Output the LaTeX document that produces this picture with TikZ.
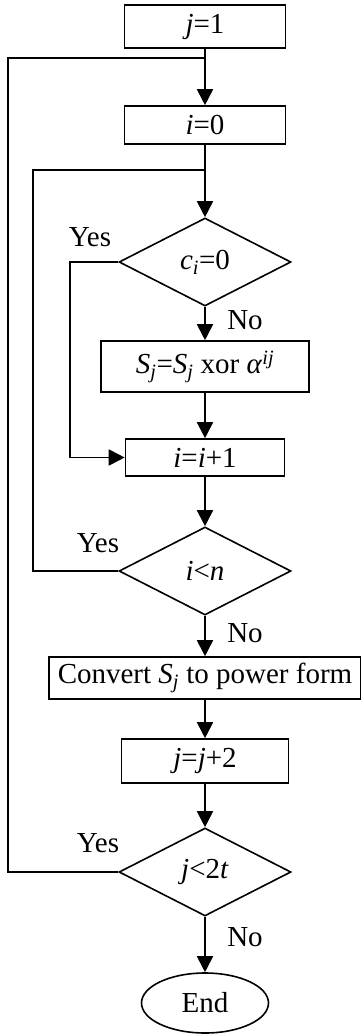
\documentclass[tikz,border=0pt]{standalone}
\usepackage{fontspec}
\setmainfont{Liberation Serif}
\usetikzlibrary{shapes.geometric,arrows.meta}
\begin{document}
\begin{tikzpicture}[x=1pt,y=-1pt,
  font=\fontsize{29}{32}\selectfont,
  line width=1.8pt,
  arr/.style={-{Triangle[length=16pt,width=16pt]}},
  procbox/.style={draw,rectangle,inner sep=0pt,line width=1.6pt},
  decbox/.style={draw,diamond,inner sep=0pt,aspect=1.95,minimum width=172pt,minimum height=88pt,line width=1.6pt},
  lbl/.style={inner sep=0pt}]
\useasboundingbox (0,0) rectangle (360,1034);
\node[procbox,minimum width=161pt,minimum height=43pt] (j1) at (205,26.5) {\textit{j}=1};
\node[procbox,minimum width=161pt,minimum height=38pt] (i0) at (205,125) {\textit{i}=0};
\node[decbox] (c0) at (205,262) {\textit{c}\textsubscript{\textit{i}}=0};
\node[procbox,minimum width=208pt,minimum height=51pt] (sx) at (205,366.5) {\textit{S}\textsubscript{\textit{j}}=\textit{S}\textsubscript{\textit{j}} xor \textit{α}\textsuperscript{\textit{ij}}};
\node[procbox,minimum width=159pt,minimum height=37pt] (inc) at (205,457.5) {\textit{i}=\textit{i}+1};
\node[decbox] (iln) at (205,571) {\textit{i}<\textit{n}};
\node[procbox,minimum width=312pt,minimum height=42pt] (conv) at (205,678) {Convert \textit{S}\textsubscript{\textit{j}} to power form};
\node[procbox,minimum width=167pt,minimum height=44pt] (jj2) at (205,761) {\textit{j}=\textit{j}+2};
\node[decbox] (jlt) at (205,872) {\textit{j}<2\textit{t}};
\node[draw,ellipse,inner sep=0pt,minimum width=127pt,minimum height=60pt,line width=1.6pt] (end) at (205,1003) {End};
\coordinate (J1) at (205,58);
\coordinate (oL) at (8,58);
\coordinate (J2) at (205,170);
\coordinate (iL) at (33,170);
\coordinate (yc) at (70,457.5);
\draw[arr] (j1) -- (i0);
\draw[arr] (i0) -- (c0);
\draw[arr] (c0) -- (sx);
\draw[arr] (sx) -- (inc);
\draw[arr] (inc) -- (iln);
\draw[arr] (iln) -- (conv);
\draw[arr] (conv) -- (jj2);
\draw[arr] (jj2) -- (jlt);
\draw[arr] (jlt) -- (end);
\draw[arr] (c0.west) -| (yc) -- (inc.west);
\draw (iln.west) -| (iL) -- (J2);
\draw (jlt.west) -| (oL) -- (J1);
\node[lbl] (y1) at (90,237) {Yes};
\node[lbl] (y2) at (98,543) {Yes};
\node[lbl] (y3) at (98,843) {Yes};
\node[lbl] (n1) at (245,320) {No};
\node[lbl] (n2) at (245,633) {No};
\node[lbl] (n3) at (245,937) {No};
\end{tikzpicture}
\end{document}
